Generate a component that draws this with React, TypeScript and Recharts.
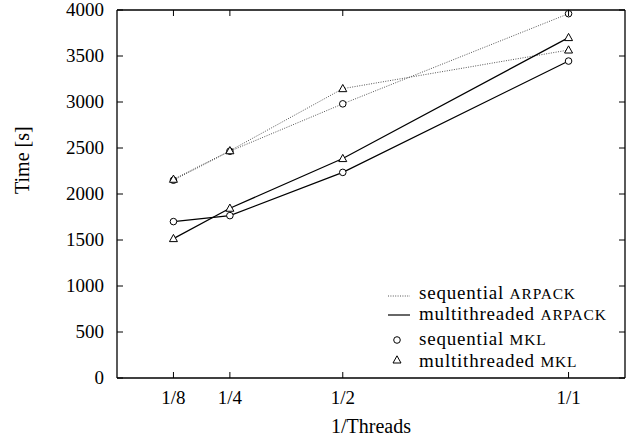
import React from 'react';
import { LineChart, Line, XAxis, YAxis, ReferenceLine } from 'recharts';

// 1/Threads on the x axis
const threads = [0.125, 0.25, 0.5, 1];
const threadLabels = ['1/8', '1/4', '1/2', '1/1'];
const timeTicks = [0, 500, 1000, 1500, 2000, 2500, 3000, 3500, 4000];

// time in seconds, ARPACK variant x MKL variant
const seqArpackSeqMkl = [2150, 2465, 2980, 3960];
const seqArpackMtMkl = [2160, 2470, 3145, 3565];
const mtArpackSeqMkl = [1700, 1765, 2235, 3445];
const mtArpackMtMkl = [1515, 1845, 2385, 3700];

const W = 638;
const H = 445;
const M = { top: 10, right: 13, left: 0, bottom: 0 };
const Y_AXIS_W = 117;
const X_AXIS_H = 67;
const PLOT_LEFT = M.left + Y_AXIS_W;
const PLOT_RIGHT = W - M.right;
const PLOT_TOP = M.top;
const PLOT_BOTTOM = H - X_AXIS_H;
const TICK = 6;
const FONT = '"Liberation Serif", "Times New Roman", serif';

const data = threads.map((t, i) => ({
  t,
  ss: seqArpackSeqMkl[i],
  sm: seqArpackMtMkl[i],
  ms: mtArpackSeqMkl[i],
  mm: mtArpackMtMkl[i],
}));

const labelFor = (v: number) => threadLabels[threads.indexOf(v)] ?? String(v);

const CircleDot = (p: any) => (
  <circle key={p.index} cx={p.cx} cy={p.cy} r={3.3} fill="#fff" stroke="#000" strokeWidth={1} />
);

const TriangleDot = (p: any) => (
  <polygon
    key={p.index}
    points={`${p.cx},${p.cy - 4.2} ${p.cx - 4},${p.cy + 3} ${p.cx + 4},${p.cy + 3}`}
    fill="#fff"
    stroke="#000"
    strokeWidth={1}
  />
);

const YTick = (p: any) => {
  const { y, payload } = p;
  return (
    <g>
      <text x={PLOT_LEFT - 13} y={y} dy={6} textAnchor="end" fontSize={19} fontFamily={FONT} fill="#000">
        {payload.value}
      </text>
      <line x1={PLOT_LEFT} x2={PLOT_LEFT + TICK} y1={y} y2={y} stroke="#000" />
      <line x1={PLOT_RIGHT - TICK} x2={PLOT_RIGHT} y1={y} y2={y} stroke="#000" />
    </g>
  );
};

const XTick = (p: any) => {
  const { x, payload } = p;
  return (
    <g>
      <text x={x} y={PLOT_BOTTOM + 26} textAnchor="middle" fontSize={19} fontFamily={FONT} fill="#000">
        {labelFor(payload.value)}
      </text>
      <line x1={x} x2={x} y1={PLOT_BOTTOM} y2={PLOT_BOTTOM - TICK} stroke="#000" />
      <line x1={x} x2={x} y1={PLOT_TOP} y2={PLOT_TOP + TICK} stroke="#000" />
    </g>
  );
};

const sc = { fontSize: 15.5 };

const ChartLegend = () => (
  <svg
    width={258}
    height={92}
    style={{ position: 'absolute', left: 380, top: 282, fontFamily: FONT, letterSpacing: 0.8 }}
  >
    <line x1={8} x2={30} y1={14} y2={14} stroke="#555" strokeDasharray="1 1.4" />
    <text x={39} y={17} fontSize={19}>
      sequential <tspan style={sc}>ARPACK</tspan>
    </text>
    <line x1={8} x2={30} y1={33} y2={33} stroke="#000" strokeWidth={1.2} />
    <text x={39} y={38} fontSize={19}>
      multithreaded <tspan style={sc}>ARPACK</tspan>
    </text>
    <circle cx={17} cy={58} r={3.3} fill="#fff" stroke="#000" />
    <text x={39} y={63} fontSize={19}>
      sequential <tspan style={sc}>MKL</tspan>
    </text>
    <polygon points="17,73.8 13,81 21,81" fill="#fff" stroke="#000" />
    <text x={39} y={85} fontSize={19}>
      multithreaded <tspan style={sc}>MKL</tspan>
    </text>
  </svg>
);

export default function App() {
  return (
    <div style={{ position: 'relative', width: W, height: H, background: '#fff' }}>
      <style>{`body{margin:0}`}</style>
      <LineChart width={W} height={H} data={data} margin={M} style={{ fontFamily: FONT }}>
        <XAxis
          dataKey="t"
          type="number"
          domain={[0, 1.125]}
          ticks={threads}
          interval={0}
          height={X_AXIS_H}
          tickSize={0}
          tickMargin={0}
          tick={XTick}
          tickLine={false}
          axisLine={{ stroke: '#000', strokeWidth: 1.3 }}
          allowDataOverflow
          label={{ value: '1/Threads', position: 'insideBottom', offset: 12, fontSize: 20, fill: '#000', fontFamily: FONT }}
        />
        <YAxis
          type="number"
          domain={[0, 4000]}
          ticks={timeTicks}
          interval={0}
          width={Y_AXIS_W}
          tickSize={0}
          tickMargin={0}
          tick={YTick}
          tickLine={false}
          axisLine={{ stroke: '#000', strokeWidth: 1.3 }}
          label={{ value: 'Time [s]', angle: -90, position: 'insideLeft', offset: 22, fontSize: 20, fill: '#000', fontFamily: FONT }}
        />
        <ReferenceLine y={4000} stroke="#000" strokeWidth={1.3} />
        <ReferenceLine x={1.125} stroke="#000" strokeWidth={1.3} />
        <Line dataKey="ss" type="linear" stroke="#555" strokeWidth={1} strokeDasharray="1 1.4" dot={CircleDot} isAnimationActive={false} />
        <Line dataKey="sm" type="linear" stroke="#555" strokeWidth={1} strokeDasharray="1 1.4" dot={TriangleDot} isAnimationActive={false} />
        <Line dataKey="ms" type="linear" stroke="#000" strokeWidth={1.2} dot={CircleDot} isAnimationActive={false} />
        <Line dataKey="mm" type="linear" stroke="#000" strokeWidth={1.2} dot={TriangleDot} isAnimationActive={false} />
      </LineChart>
      <ChartLegend />
    </div>
  );
}
